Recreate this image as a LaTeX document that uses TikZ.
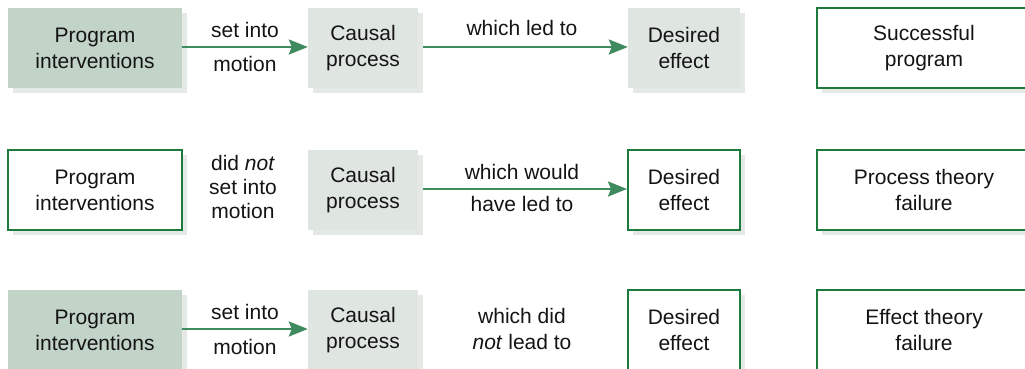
\documentclass[tikz,border=0pt]{standalone}
\usepackage{fontspec}
\setmainfont{Liberation Sans}
\usetikzlibrary{arrows.meta,shadows}
\definecolor{sage}{HTML}{C2D3C7}
\definecolor{pale}{HTML}{DFE5E1}
\definecolor{shade}{HTML}{E4E9E6}
\definecolor{frame}{HTML}{1C7A3D}
\definecolor{arrowgreen}{HTML}{3F8B5F}
\definecolor{ink}{HTML}{141414}
\begin{document}
\begin{tikzpicture}[x=1pt,y=-1pt,
  font=\fontsize{21}{26}\selectfont, text=ink,
  box/.style={minimum height=80pt, align=center, inner sep=0pt,
    drop shadow={shadow xshift=5pt,shadow yshift=-5pt,fill=shade,opacity=1}},
  darkbox/.style={box, fill=sage},
  lightbox/.style={box, fill=pale},
  openbox/.style={box, fill=white, draw=frame, line width=2pt},
  progbox/.style={minimum width=174pt},
  causebox/.style={minimum width=110pt},
  effectbox/.style={minimum width=112pt},
  resultbox/.style={minimum width=214pt},
  lbl/.style={inner sep=0pt, align=center},
  conn/.style={draw=arrowgreen, line width=2.5pt,
    -{Stealth[length=19pt,width=15pt,inset=3pt]}},
]
\useasboundingbox (0,0) rectangle (1025,369);

% --- first row: a successful program ---
\node[darkbox,progbox]    (p1) at (95,48)  {Program\\interventions};
\node[lightbox,causebox]  (c1) at (363,48) {Causal\\process};
\node[lightbox,effectbox] (d1) at (684,48) {Desired\\effect};
\node[openbox,resultbox]  (r1) at (924,48) {Successful\\program};
\draw[conn] (p1.east |- 0,47) coordinate (a1s) -- (c1.west |- 0,47) coordinate (a1e);
\draw[conn, shorten <=5pt] (c1.east |- 0,47) -- (d1.west |- 0,47);
\node[lbl] (s1a) at (245,30) {set into};
\node[lbl] (s1b) at (245,64) {motion};
\node[lbl] (w1)  at (522,28) {which led to};

% --- second row: process theory failure ---
\node[openbox,progbox]    (p2) at (95,190)  {Program\\interventions};
\node[lightbox,causebox]  (c2) at (363,190) {Causal\\process};
\node[openbox,effectbox]  (d2) at (684,190) {Desired\\effect};
\node[openbox,resultbox]  (r2) at (924,190) {Process theory\\failure};
\draw[conn, shorten <=5pt] (c2.east |- 0,189) -- (d2.west |- 0,189);
\node[lbl] (s2a) at (243,163) {did \textit{not}};
\node[lbl] (s2b) at (243,187) {set into};
\node[lbl] (s2c) at (243,211) {motion};
\node[lbl] (w2a) at (522,172) {which would};
\node[lbl] (w2b) at (522,204) {have led to};

% --- third row: effect theory failure ---
\node[darkbox,progbox]    (p3) at (95,330)  {Program\\interventions};
\node[lightbox,causebox]  (c3) at (363,330) {Causal\\process};
\node[openbox,effectbox]  (d3) at (684,330) {Desired\\effect};
\node[openbox,resultbox]  (r3) at (924,330) {Effect theory\\failure};
\draw[conn] (p3.east |- 0,329) -- (c3.west |- 0,329);
\node[lbl] (s3a) at (245,312) {set into};
\node[lbl] (s3b) at (245,347) {motion};
\node[lbl] (w3a) at (522,316) {which did};
\node[lbl] (w3b) at (522,342) {\textit{not} lead to};
\end{tikzpicture}
\end{document}
